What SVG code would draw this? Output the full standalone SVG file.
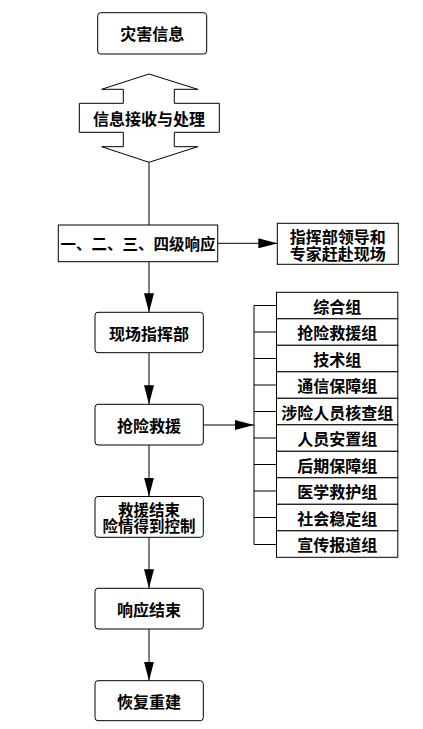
<svg xmlns="http://www.w3.org/2000/svg" width="423" height="729" viewBox="0 0 423 729">
<style>
.box{fill:#fff;stroke:#000;stroke-width:1}
.t{font-family:"Noto Sans CJK SC","Noto Sans CJK JP",sans-serif;font-size:16px;font-weight:bold;fill:#000;text-anchor:middle;dominant-baseline:central}
.ln{stroke:#000;stroke-width:1;fill:none}
</style>
<defs>
<marker id="ah" markerUnits="userSpaceOnUse" markerWidth="19" markerHeight="10" refX="19" refY="5" orient="auto">
<path d="M0,0 L19,5 L0,10 z" fill="#000"/>
</marker>
</defs>
<rect width="423" height="729" fill="#fff"/>
<g id="connectors">
<line class="ln" x1="149" y1="162.3" x2="149" y2="225"/>
<line class="ln" x1="217.7" y1="243.3" x2="277.3" y2="243.3" marker-end="url(#ah)"/>
<line class="ln" x1="149" y1="261.7" x2="149" y2="312.3" marker-end="url(#ah)"/>
<line class="ln" x1="149" y1="352.7" x2="149" y2="404.3" marker-end="url(#ah)"/>
<line class="ln" x1="203.3" y1="425" x2="254" y2="425" marker-end="url(#ah)"/>
<line class="ln" x1="149" y1="445" x2="149" y2="496.5" marker-end="url(#ah)"/>
<line class="ln" x1="149" y1="537.3" x2="149" y2="588.3" marker-end="url(#ah)"/>
<line class="ln" x1="149" y1="629" x2="149" y2="680.7" marker-end="url(#ah)"/>
<path class="ln" d="M254,305.5 V544.5 M254,305.5 H276 M254,332 H276 M254,358.5 H276 M254,385 H276 M254,411.5 H276 M254,438 H276 M254,464.5 H276 M254,491 H276 M254,517.5 H276 M254,544.5 H276"/>
</g>
<g id="n-disaster"><rect class="box" x="97.7" y="12.7" width="109" height="41.3" rx="3"/><text class="t" x="152.2" y="33.3">灾害信息</text></g>
<g id="n-receive"><polygon class="box" points="149,74 197.7,89.3 174.3,89.3 174.3,103.3 219.3,103.3 219.3,132.3 174.3,132.3 174.3,146.7 197.7,146.7 149,162.3 101.7,146.7 123.3,146.7 123.3,132.3 79.3,132.3 79.3,103.3 123.3,103.3 123.3,89.3 101.7,89.3"/><text class="t" x="149" y="118">信息接收与处理</text></g>
<g id="n-response"><rect class="box" x="58.3" y="225" width="159.4" height="36.7"/><text class="t" x="138" y="243.3" style="font-size:15.5px">一、二、三、四级响应</text></g>
<g id="n-leaders"><rect class="box" x="277.3" y="223.3" width="121" height="41"/><text class="t" x="337.8" y="235.5"><tspan x="337.8">指挥部领导和</tspan><tspan x="337.8" dy="17.5">专家赶赴现场</tspan></text></g>
<g id="n-command"><rect class="box" x="95" y="312.3" width="108.3" height="40.4" rx="3"/><text class="t" x="149" y="332.5">现场指挥部</text></g>
<g id="n-rescue"><rect class="box" x="95" y="404.3" width="108.3" height="40.7" rx="3"/><text class="t" x="149" y="424.7">抢险救援</text></g>
<g id="n-end-rescue"><rect class="box" x="95" y="496.5" width="108.3" height="40.8" rx="3"/><text class="t" x="149" y="509" style="font-size:15.5px"><tspan x="149">救援结束</tspan><tspan x="149" dy="15.5">险情得到控制</tspan></text></g>
<g id="n-end-response"><rect class="box" x="95" y="588.3" width="108.3" height="40.7" rx="3"/><text class="t" x="149" y="608.7">响应结束</text></g>
<g id="n-rebuild"><rect class="box" x="95" y="680.7" width="108.3" height="40" rx="3"/><text class="t" x="149" y="700.7">恢复重建</text></g>
<g id="groups">
<g id="g1"><rect class="box" x="276.5" y="292.3" width="121.3" height="26.5"/><text class="t" x="337.2" y="305.5">综合组</text></g>
<g id="g2"><rect class="box" x="276.5" y="318.8" width="121.3" height="26.5"/><text class="t" x="337.2" y="332">抢险救援组</text></g>
<g id="g3"><rect class="box" x="276.5" y="345.3" width="121.3" height="26.5"/><text class="t" x="337.2" y="358.5">技术组</text></g>
<g id="g4"><rect class="box" x="276.5" y="371.8" width="121.3" height="26.5"/><text class="t" x="337.2" y="385">通信保障组</text></g>
<g id="g5"><rect class="box" x="276.5" y="398.3" width="121.3" height="26.5"/><text class="t" x="337.2" y="411.5">涉险人员核查组</text></g>
<g id="g6"><rect class="box" x="276.5" y="424.8" width="121.3" height="26.5"/><text class="t" x="337.2" y="438">人员安置组</text></g>
<g id="g7"><rect class="box" x="276.5" y="451.3" width="121.3" height="26.5"/><text class="t" x="337.2" y="464.5">后期保障组</text></g>
<g id="g8"><rect class="box" x="276.5" y="477.8" width="121.3" height="26.5"/><text class="t" x="337.2" y="491">医学救护组</text></g>
<g id="g9"><rect class="box" x="276.5" y="504.3" width="121.3" height="26.5"/><text class="t" x="337.2" y="517.5">社会稳定组</text></g>
<g id="g10"><rect class="box" x="276.5" y="530.8" width="121.3" height="26.5"/><text class="t" x="337.2" y="544">宣传报道组</text></g>
</g>
</svg>
